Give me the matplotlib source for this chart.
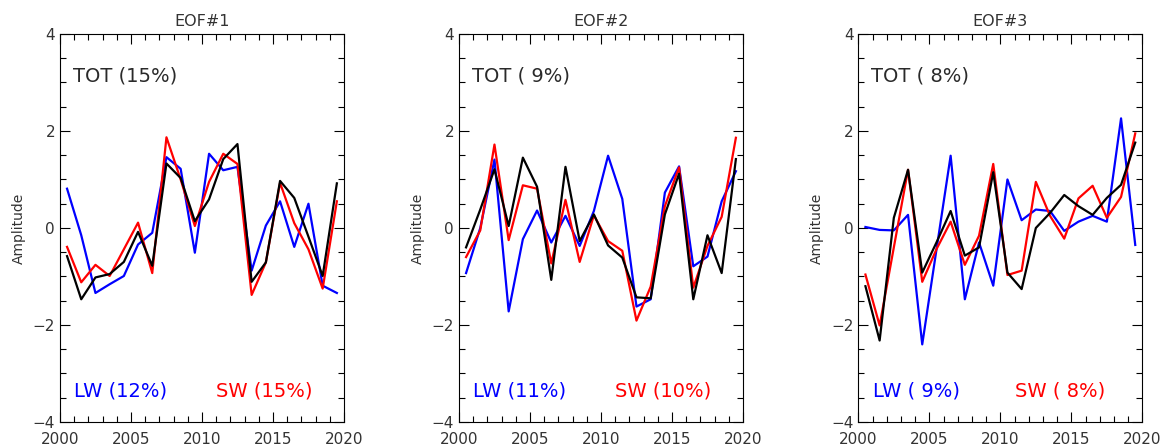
import matplotlib
matplotlib.use("Agg")
import matplotlib.pyplot as plt
from matplotlib.ticker import MultipleLocator

# years: annual values plotted at mid-year
years = [2000.5 + i for i in range(20)]

titles = ["EOF#1", "EOF#2", "EOF#3"]
tot_labels = ["TOT (15%)", "TOT ( 9%)", "TOT ( 8%)"]
lw_labels = ["LW (12%)", "LW (11%)", "LW ( 9%)"]
sw_labels = ["SW (15%)", "SW (10%)", "SW ( 8%)"]

# EOF#1
tot1 = [-0.58, -1.47, -1.02, -0.95, -0.70, -0.08, -0.78, 1.33, 1.03, 0.14,
        0.59, 1.42, 1.73, -1.11, -0.71, 0.97, 0.62, -0.18, -0.99, 0.92]
lw1 = [0.81, -0.15, -1.34, -1.16, -0.99, -0.34, -0.10, 1.46, 1.22, -0.51,
       1.53, 1.19, 1.26, -0.88, 0.05, 0.55, -0.39, 0.50, -1.19, -1.34]
sw1 = [-0.39, -1.12, -0.76, -0.99, -0.44, 0.11, -0.93, 1.87, 1.00, 0.04,
       0.95, 1.53, 1.32, -1.38, -0.71, 0.93, 0.10, -0.44, -1.25, 0.55]

# EOF#2
tot2 = [-0.40, 0.38, 1.21, 0.04, 1.45, 0.85, -1.07, 1.26, -0.27, 0.28,
        -0.36, -0.61, -1.43, -1.45, 0.28, 1.12, -1.47, -0.15, -0.93, 1.42]
lw2 = [-0.93, 0.00, 1.41, -1.72, -0.23, 0.36, -0.30, 0.25, -0.37, 0.35,
       1.49, 0.60, -1.62, -1.47, 0.73, 1.27, -0.79, -0.59, 0.55, 1.17]
sw2 = [-0.60, -0.05, 1.72, -0.25, 0.88, 0.81, -0.73, 0.58, -0.70, 0.26,
       -0.27, -0.47, -1.91, -1.21, 0.45, 1.25, -1.23, -0.37, 0.23, 1.86]

# EOF#3
tot3 = [-1.20, -2.32, 0.21, 1.20, -0.92, -0.30, 0.35, -0.57, -0.40, 1.15,
        -0.92, -1.26, 0.00, 0.31, 0.68, 0.45, 0.27, 0.62, 0.89, 1.76]
lw3 = [0.02, -0.04, -0.05, 0.27, -2.40, -0.45, 1.49, -1.47, -0.30, -1.19,
       1.00, 0.16, 0.38, 0.35, -0.06, 0.13, 0.25, 0.13, 2.26, -0.35]
sw3 = [-0.96, -2.01, -0.40, 1.20, -1.11, -0.44, 0.13, -0.76, -0.16, 1.32,
       -0.97, -0.88, 0.95, 0.25, -0.22, 0.61, 0.87, 0.21, 0.64, 1.95]

tot_all = [tot1, tot2, tot3]
lw_all = [lw1, lw2, lw3]
sw_all = [sw1, sw2, sw3]

txt_col = "#333333"
fig = plt.figure(figsize=(11.64, 4.45), dpi=100)
lefts = [0.0515, 0.3943, 0.7374]

for k in range(3):
    ax = fig.add_axes([lefts[k], 0.0517, 0.244, 0.872])
    ax.plot(years, lw_all[k], color="blue", lw=1.6)
    ax.plot(years, sw_all[k], color="red", lw=1.6)
    ax.plot(years, tot_all[k], color="black", lw=1.6)
    ax.set_xlim(2000, 2020)
    ax.set_ylim(-4, 4)
    ax.xaxis.set_major_locator(MultipleLocator(5))
    ax.xaxis.set_minor_locator(MultipleLocator(1))
    ax.yaxis.set_major_locator(MultipleLocator(2))
    ax.yaxis.set_minor_locator(MultipleLocator(0.5))
    ax.tick_params(which="both", direction="in", top=True, right=True,
                   colors="black", labelcolor=txt_col, labelsize=11)
    ax.tick_params(which="major", length=7, width=0.8)
    ax.tick_params(which="minor", length=4, width=0.8)
    ax.tick_params(axis="x", pad=7)
    ax.set_title(titles[k], fontsize=11.5, color=txt_col, pad=6)
    ax.set_ylabel("Amplitude", fontsize=10, color=txt_col, labelpad=5)
    ax.text(2000.9, 3.13, tot_labels[k], color="#2a2a2a", fontsize=14,
            va="center", ha="left")
    ax.text(2001.0, -3.36, lw_labels[k], color="blue", fontsize=14,
            va="center", ha="left")
    ax.text(2011.0, -3.36, sw_labels[k], color="red", fontsize=14,
            va="center", ha="left")

plt.savefig("out.png", dpi=100)
